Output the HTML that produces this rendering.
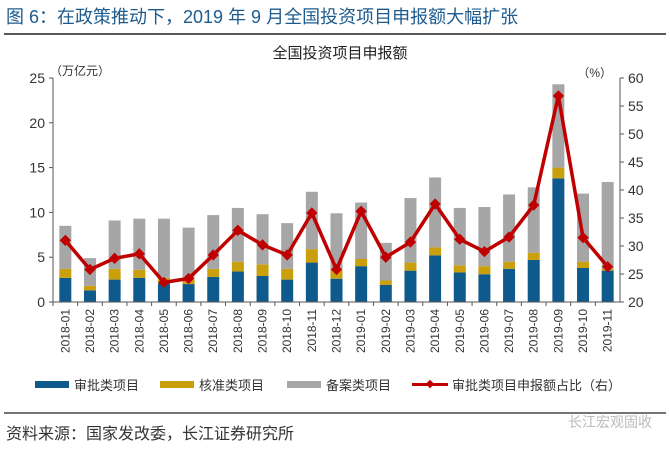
<!DOCTYPE html>
<html><head><meta charset="utf-8"><style>
body{margin:0;background:#fff;}
svg text{font-family:"Liberation Sans","Noto Sans CJK SC",sans-serif;}
</style></head><body>
<svg width="670" height="447" viewBox="0 0 670 447" xmlns="http://www.w3.org/2000/svg">
<text x="6" y="23" font-size="18" fill="#1d5b8e">图 6：在政策推动下，2019 年 9 月全国投资项目申报额大幅扩张</text>
<line x1="4" y1="34" x2="666" y2="34" stroke="#222" stroke-width="1.5"/>
<text x="340" y="58" font-size="15" text-anchor="middle" fill="#222">全国投资项目申报额</text>
<text x="50" y="75" font-size="12" fill="#333">（万亿元）</text>
<text x="612" y="77" font-size="12" fill="#333" text-anchor="end">（%）</text>
<g id="plot"></g>
<g id="legend">
<rect x="35" y="381" width="34" height="7" fill="#0f5a8c"/>
<text x="74" y="390" font-size="13" fill="#333">审批类项目</text>
<rect x="160" y="381" width="34" height="7" fill="#c9a00b"/>
<text x="199" y="390" font-size="13" fill="#333">核准类项目</text>
<rect x="287" y="381" width="34" height="7" fill="#a6a6a6"/>
<text x="326" y="390" font-size="13" fill="#333">备案类项目</text>
<line x1="412" y1="384.5" x2="448" y2="384.5" stroke="#c00000" stroke-width="3"/>
<rect x="427" y="381" width="6" height="6" fill="#c00000" transform="rotate(45 430 384)"/>
<text x="452" y="390" font-size="13" fill="#333">审批类项目申报额占比（右）</text>
</g>
<line x1="4" y1="413" x2="666" y2="413" stroke="#222" stroke-width="1.2"/>
<text x="6" y="439" font-size="16" fill="#333">资料来源：国家发改委，长江证券研究所</text>
<text x="568" y="427" font-size="14" fill="#bbb">长江宏观固收</text>
</svg>
<script>
const categories=["2018-01","2018-02","2018-03","2018-04","2018-05","2018-06","2018-07","2018-08","2018-09","2018-10","2018-11","2018-12","2019-01","2019-02","2019-03","2019-04","2019-05","2019-06","2019-07","2019-08","2019-09","2019-10","2019-11"];
const approveValues=[2.7,1.3,2.5,2.7,2.1,2.0,2.8,3.4,2.9,2.5,4.4,2.6,4.0,1.9,3.5,5.2,3.3,3.1,3.7,4.7,13.8,3.8,3.5];
const verifyValues=[1.0,0.5,1.2,0.9,0.6,0.5,0.9,1.1,1.3,1.2,1.5,1.0,0.8,0.5,0.9,0.9,0.8,0.9,0.8,0.8,1.2,0.7,0.2];
const recordValues=[4.8,3.1,5.4,5.7,6.6,5.8,6.0,6.0,5.6,5.1,6.4,6.3,6.3,4.2,7.2,7.8,6.4,6.6,7.5,7.3,9.3,7.6,9.7];
const ratioValues=[31,25.8,27.8,28.6,23.5,24.2,28.4,32.8,30.2,28.4,35.9,25.8,36.2,28.0,30.7,37.5,31.2,29.0,31.6,37.3,56.8,31.5,26.3];
const leftTicks=[0,5,10,15,20,25];
const rightTicks=[20,25,30,35,40,45,50,55,60];
const NS="http://www.w3.org/2000/svg";
const plot=document.getElementById('plot');
const X0=53,X1=620,Y0=302,Y1=78;
const band=(X1-X0)/categories.length;
const xC=i=>X0+band*(i+0.5);
const yL=v=>Y0-(v/25)*(Y0-Y1);
const yR=v=>Y0-((v-20)/40)*(Y0-Y1);
function mk(tag,attrs){const e=document.createElementNS(NS,tag);for(const k in attrs)e.setAttribute(k,attrs[k]);plot.appendChild(e);return e;}
// bars
categories.forEach((c,i)=>{
  const bw=12,x=xC(i)-bw/2;
  let base=0;
  [[approveValues,'#0f5a8c','bar-approve'],[verifyValues,'#c9a00b','bar-verify'],[recordValues,'#a6a6a6','bar-record']].forEach(([arr,col,nm])=>{
    const v=arr[i];
    const r=mk('rect',{x:x,y:yL(base+v),width:bw,height:yL(base)-yL(base+v),fill:col});
    
    
    base+=v;
  });
});
// axes
let a=mk('line',{x1:X0,y1:Y1,x2:X0,y2:Y0,stroke:'#555'});


a=mk('line',{x1:X1,y1:Y1,x2:X1,y2:Y0,stroke:'#555'});


a=mk('line',{x1:X0,y1:Y0,x2:X1,y2:Y0,stroke:'#555'});


leftTicks.forEach(t=>{
  mk('line',{x1:X0-4,y1:yL(t),x2:X0,y2:yL(t),stroke:'#555'});
  const tx=mk('text',{x:X0-8,y:yL(t)+5,'font-size':14,'text-anchor':'end',fill:'#333'});
  tx.textContent=t;
  
  
});
rightTicks.forEach(t=>{
  mk('line',{x1:X1,y1:yR(t),x2:X1+4,y2:yR(t),stroke:'#555'});
  const tx=mk('text',{x:X1+8,y:yR(t)+5,'font-size':14,fill:'#333'});
  tx.textContent=t;
  
  
});
categories.forEach((c,i)=>{
  mk('line',{x1:X0+band*i,y1:Y0,x2:X0+band*i,y2:Y0+4,stroke:'#555'});
  const tx=mk('text',{x:0,y:0,'font-size':12,'text-anchor':'end',fill:'#333',transform:`translate(${xC(i)+4},${Y0+7}) rotate(-90)`});
  tx.textContent=c;
  
  
});
// line
const pts=ratioValues.map((v,i)=>xC(i)+','+yR(v)).join(' ');
const pl=mk('polyline',{points:pts,fill:'none',stroke:'#c00000','stroke-width':3.5,'stroke-linejoin':'round'});


ratioValues.forEach((v,i)=>{
  const m=mk('rect',{x:xC(i)-4,y:yR(v)-4,width:8,height:8,fill:'#c00000',transform:`rotate(45 ${xC(i)} ${yR(v)})`});
  
  
});
</script>
</body></html>
